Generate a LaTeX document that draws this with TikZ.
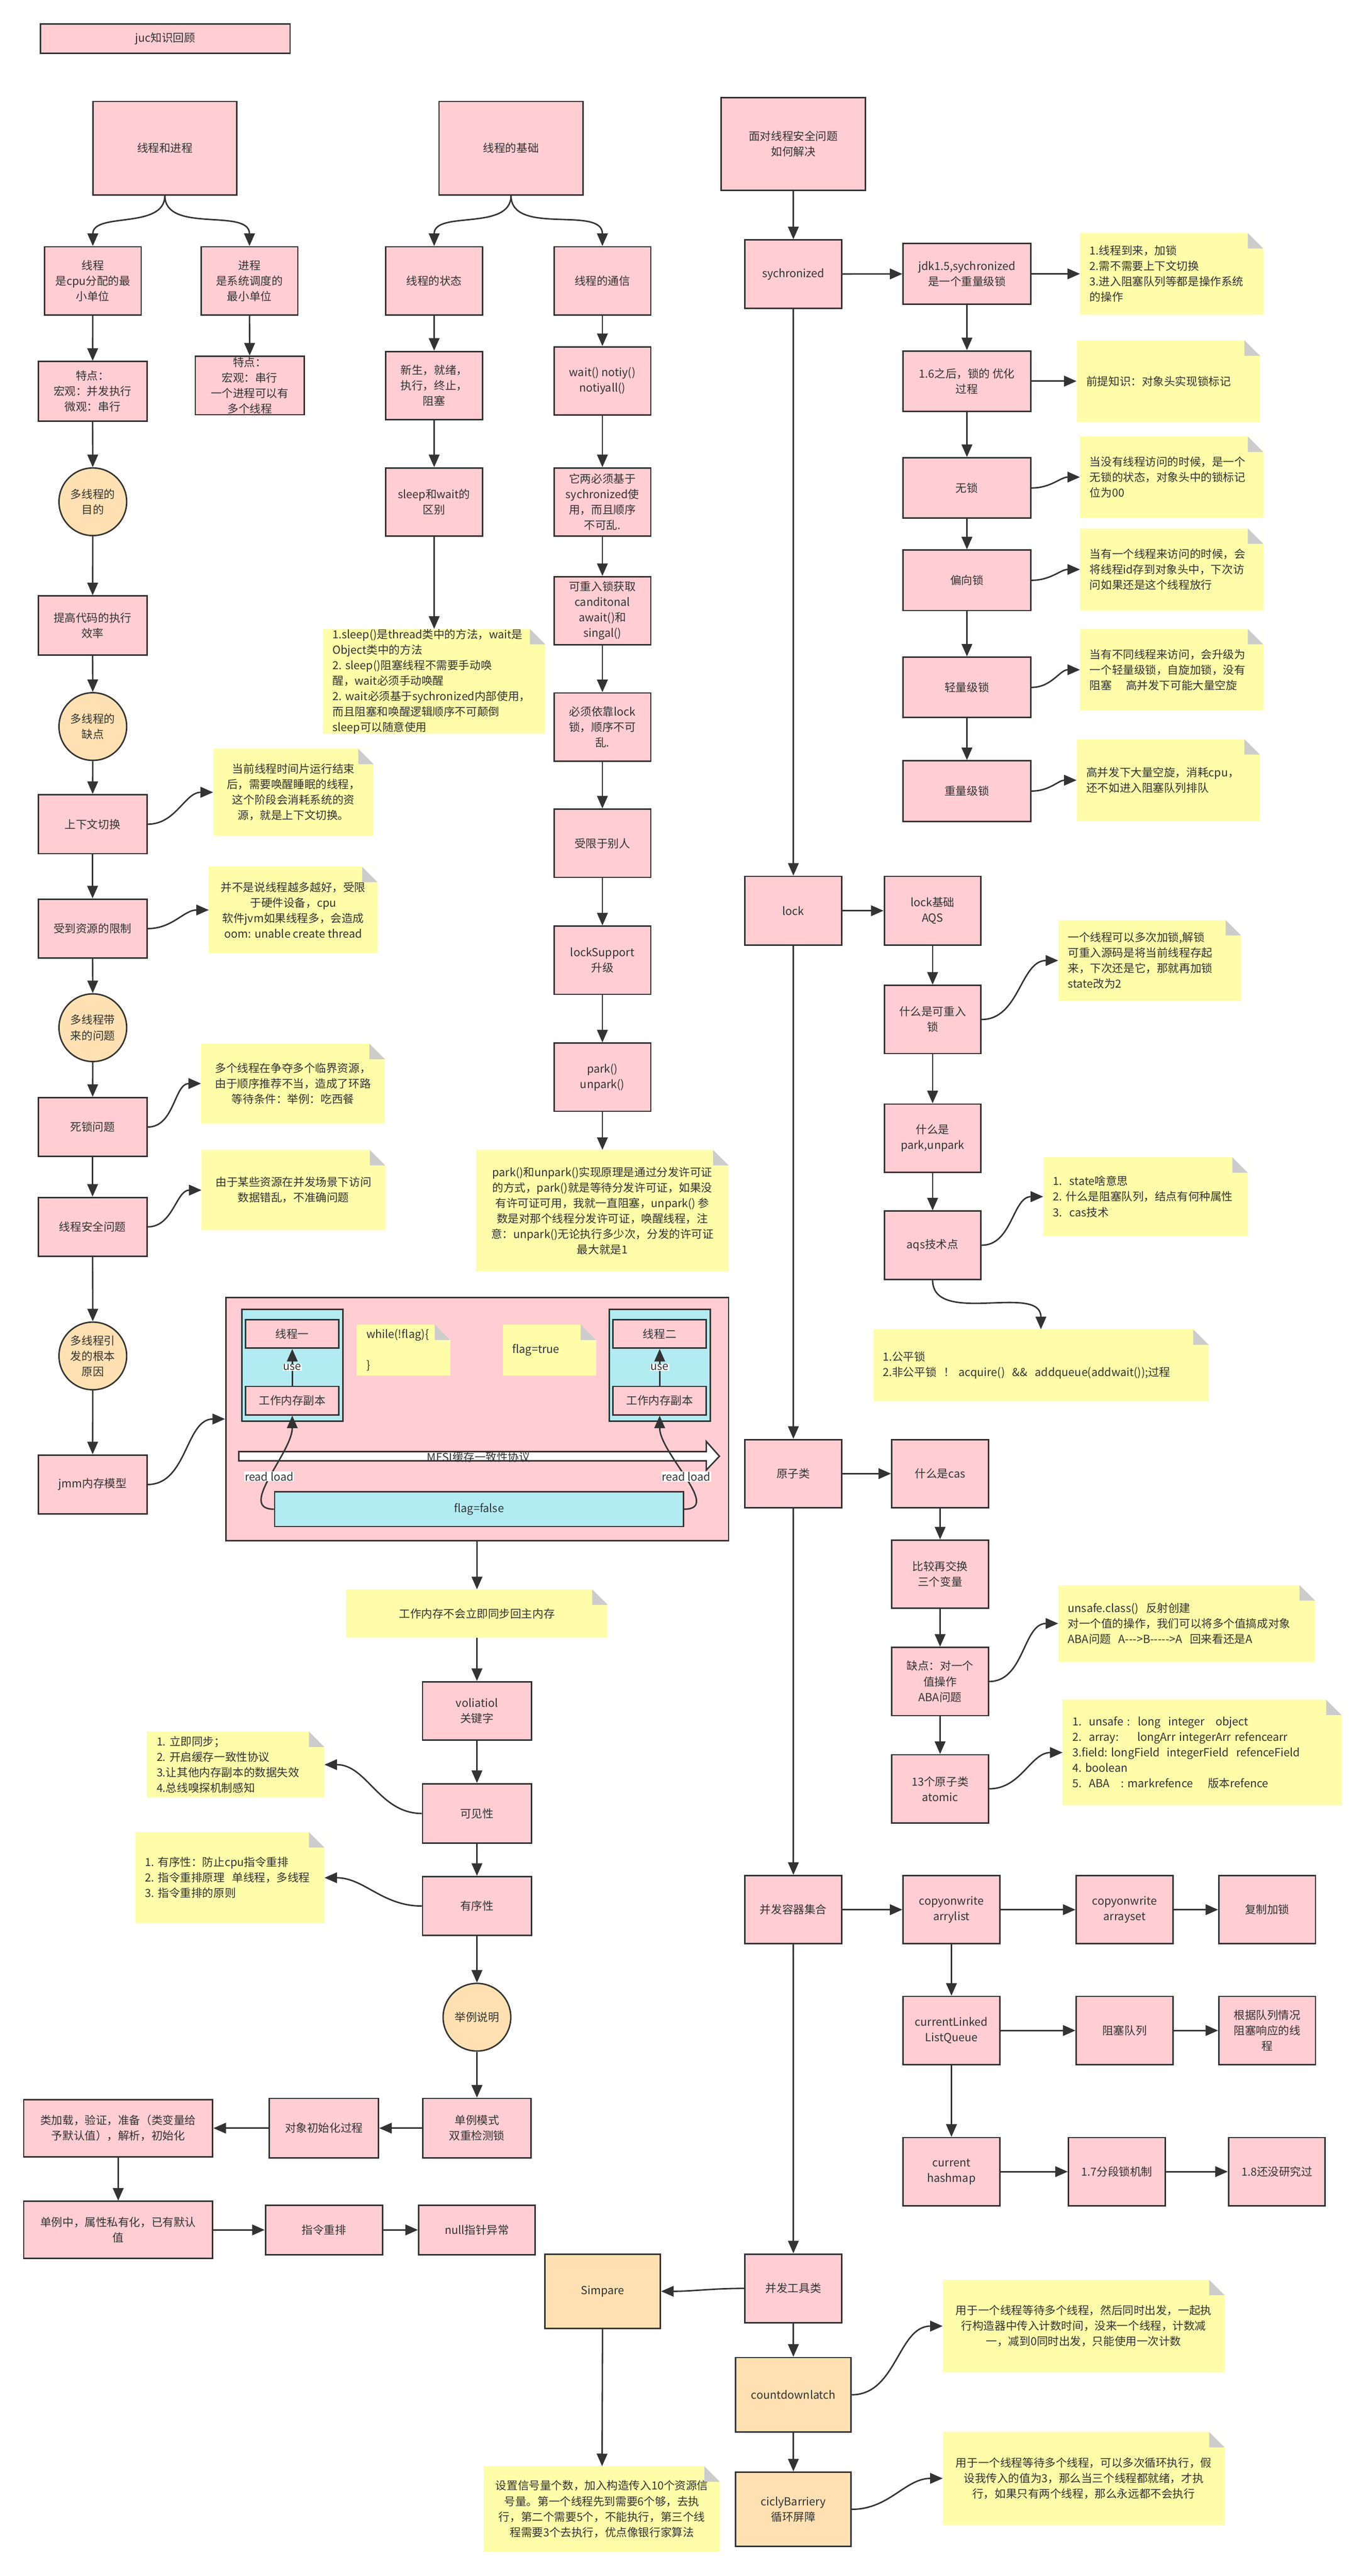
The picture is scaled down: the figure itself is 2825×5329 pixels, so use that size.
\documentclass[tikz,border=0pt]{standalone}
\usepackage{fontspec}
\setmainfont{Noto Sans CJK SC}
\usetikzlibrary{arrows.meta}
\definecolor{pinkc}{RGB}{255,205,210}
\definecolor{peachc}{RGB}{255,224,178}
\definecolor{notec}{RGB}{255,253,170}
\definecolor{cyanc}{RGB}{178,235,242}
\definecolor{edgec}{RGB}{51,51,51}
\definecolor{foldc}{RGB}{204,204,204}
\colorlet{cornerc}{white}
\begin{document}
\begin{tikzpicture}[x=1pt,y=-1pt,font=\fontsize{23}{32}\selectfont,text=edgec,
	box/.style={draw=edgec,fill=pinkc,line width=3pt,align=center,inner sep=0pt},
	sq/.style={box,minimum width=200,minimum height=141},
	lb/.style={box,minimum width=225,minimum height=122},
	lk/.style={box,minimum width=264,minimum height=125},
	pbox/.style={box,fill=peachc,minimum width=239,minimum height=154},
	circ/.style={circle,draw=edgec,fill=peachc,line width=3pt,align=center,minimum size=140,inner sep=0pt},
	note/.style={fill=notec,align=center,inner sep=0pt,path picture={
		\fill[cornerc] ([xshift=-32pt]path picture bounding box.north east) -- (path picture bounding box.north east) -- ([yshift=-32pt]path picture bounding box.north east) -- cycle;
		\fill[foldc] ([xshift=-32pt]path picture bounding box.north east) -- ([xshift=-32pt,yshift=-32pt]path picture bounding box.north east) -- ([yshift=-32pt]path picture bounding box.north east) -- cycle;}},
	lnote/.style={note,align=left,text width=#1},
	arr/.style={draw=edgec,line width=3pt,-{Triangle[length=26pt,width=22pt]}},
	lbl/.style={fill=white,inner sep=1pt},
	mesi/.style={draw=edgec,fill=white,line width=3pt}]
	\fill[white] (0,0) rectangle (2825,5329);
	\useasboundingbox (0,0) rectangle (2825,5329);
	\node[box,minimum width=516,minimum height=61] (t0) at (342,80) {juc知识回顾};
	\node[box,minimum width=298,minimum height=193] (a1) at (341,306.5) {线程和进程};
	\node[sq] (a2) at (192,581) {线程\\是cpu分配的最\\小单位};
	\node[sq] (a3) at (516,581) {进程\\是系统调度的\\最小单位};
	\node[lb,minimum height=123] (a4) at (191.5,809.5) {特点：\\宏观：并发执行\\微观：串行};
	\node[lb,minimum height=121] (a5) at (516.5,797.5) {特点：\\宏观：串行\\一个进程可以有\\多个线程};
	\node[circ] (c1) at (192,1038) {多线程的\\目的};
	\node[lb] (a6) at (191.5,1294) {提高代码的执行\\效率};
	\node[circ] (c2) at (192,1503) {多线程的\\缺点};
	\node[lb] (a7) at (191.5,1705) {上下文切换};
	\node[note,minimum width=332,minimum height=180] (n1) at (607,1639) {当前线程时间片运行结束\\后，需要唤醒睡眠的线程，\\这个阶段会消耗系统的资\\源，就是上下文切换。};
	\node[lb] (a8) at (191.5,1921) {受到资源的限制};
	\node[note,minimum width=349,minimum height=179] (n2) at (606.5,1882.5) {并不是说线程越多越好，受限\\于硬件设备，cpu\\软件jvm如果线程多，会造成\\oom: unable create thread};
	\node[circ] (c3) at (192,2126) {多线程带\\来的问题};
	\node[lb] (a9) at (191.5,2331.5) {死锁问题};
	\node[note,minimum width=380,minimum height=165] (n3) at (606,2241.5) {多个线程在争夺多个临界资源，\\由于顺序推荐不当，造成了环路\\等待条件：举例：吃西餐};
	\node[lb] (a10) at (191.5,2538) {线程安全问题};
	\node[note,minimum width=380,minimum height=166] (n4) at (607,2462) {由于某些资源在并发场景下访问\\数据错乱，不准确问题};
	\node[circ] (c4) at (192,2805) {多线程引\\发的根本\\原因};
	\node[lb] (a11) at (191.5,3071) {jmm内存模型};
	\draw[arr] (a1.south) to[out=-90,in=90] (a2.north);
	\draw[arr] (a1.south) to[out=-90,in=90] (a3.north);
	\draw[arr] (a2) -- (a4);
	\draw[arr] (a3) -- (a5);
	\draw[arr] (a4) -- (c1);
	\draw[arr] (c1) -- (a6);
	\draw[arr] (a6) -- (c2);
	\draw[arr] (c2) -- (a7);
	\draw[arr] (a7) -- (a8);
	\draw[arr] (a8) -- (c3);
	\draw[arr] (c3) -- (a9);
	\draw[arr] (a9) -- (a10);
	\draw[arr] (a10) -- (c4);
	\draw[arr] (c4) -- (a11);
	\draw[arr] (a7.east) to[out=0,in=180] (n1.west);
	\draw[arr] (a8.east) to[out=0,in=180] (n2.west);
	\draw[arr] (a9.east) to[out=0,in=180] (n3.west);
	\draw[arr] (a10.east) to[out=0,in=180] (n4.west);
	\node[box,minimum width=298,minimum height=193] (b1) at (1057,306.5) {线程的基础};
	\node[sq] (b2) at (898,581) {线程的状态};
	\node[sq] (b3) at (1246,581) {线程的通信};
	\node[sq] (b4) at (898,797.5) {新生，就绪，\\执行，终止，\\阻塞};
	\node[sq] (b5) at (1246,788) {wait() notiy()\\notiyall()};
	\node[sq] (b6) at (898,1038.5) {sleep和wait的\\区别};
	\node[sq] (b7) at (1246,1038.5) {它两必须基于\\sychronized使\\用，而且顺序\\不可乱.};
	\node[lnote=420,minimum width=460,minimum height=217] (n5) at (898,1409.5) {1.sleep()是thread类中的方法，wait是\\Object类中的方法\\2.~sleep()阻塞线程不需要手动唤\\醒，wait必须手动唤醒\\2.~wait必须基于sychronized内部使用，\\而且阻塞和唤醒逻辑顺序不可颠倒\\sleep可以随意使用};
	\node[sq] (b8) at (1246,1263.5) {可重入锁获取\\canditonal\\await()和\\singal()};
	\node[sq] (b9) at (1246,1504) {必须依靠lock\\锁，顺序不可\\乱.};
	\node[sq] (b10) at (1246,1744.5) {受限于别人};
	\node[sq] (b11) at (1246,1986.5) {lockSupport\\升级};
	\node[sq] (b12) at (1246,2228.5) {park()\\unpark()};
	\node[note,minimum width=522,minimum height=251] (n6) at (1246,2504.5) {park()和unpark()实现原理是通过分发许可证\\的方式，park()就是等待分发许可证，如果没\\有许可证可用，我就一直阻塞，unpark()~参\\数是对那个线程分发许可证，唤醒线程，注\\意：unpark()无论执行多少次，分发的许可证\\最大就是1};
	\draw[arr] (b1.south) to[out=-90,in=90] (b2.north);
	\draw[arr] (b1.south) to[out=-90,in=90] (b3.north);
	\draw[arr] (b2) -- (b4);
	\draw[arr] (b4) -- (b6);
	\draw[arr] (b6) -- (n5);
	\draw[arr] (b3) -- (b5);
	\draw[arr] (b5) -- (b7);
	\draw[arr] (b7) -- (b8);
	\draw[arr] (b8) -- (b9);
	\draw[arr] (b9) -- (b10);
	\draw[arr] (b10) -- (b11);
	\draw[arr] (b11) -- (b12);
	\draw[arr] (b12) -- (n6);
	\node[box,minimum width=1040,minimum height=503] (jmm) at (987,2935.5) {};
	\node[box,fill=cyanc,minimum width=209,minimum height=231] (cy1) at (604.5,2824.5) {};
	\node[box,fill=cyanc,minimum width=209,minimum height=231] (cy2) at (1364.5,2824.5) {};
	\node[box,minimum width=193,minimum height=59] (t1) at (604.5,2759.5) {线程一};
	\node[box,minimum width=193,minimum height=59] (w1) at (604.5,2897.5) {工作内存副本};
	\node[box,minimum width=193,minimum height=59] (t2) at (1364.5,2759.5) {线程二};
	\node[box,minimum width=193,minimum height=59] (w2) at (1364.5,2897.5) {工作内存副本};
	\draw[arr] (w1) -- node[lbl] {use} (t1);
	\draw[arr] (w2) -- node[lbl] {use} (t2);
	\begin{scope}
		\colorlet{cornerc}{pinkc}
		\node[lnote=153,minimum width=193,minimum height=106] (wn) at (834.5,2793) {while(!flag)\{\\[32pt]\}};
		\node[lnote=153,minimum width=193,minimum height=106] (fn) at (1136.5,2793) {flag=true};
	\end{scope}
	\draw[mesi] (494,3003) -- (1461,3003) -- (1461,2982) -- (1488,3012.5) -- (1461,3041) -- (1461,3022) -- (494,3022) -- cycle;
	\node (ms) at (990,3014) {MESI缓存一致性协议};
	\node[box,fill=cyanc,minimum width=846,minimum height=72] (ff) at (991,3122) {flag=false};
	\draw[arr] (ff.west) to[out=180,in=-90] node[lbl] {read load} (w1.south);
	\draw[arr] (ff.east) to[out=0,in=-90] node[lbl] {read load} (w2.south);
	\draw[arr] (a11.east) to[out=0,in=180] (jmm.west);
	\node[note,minimum width=541,minimum height=100] (vn1) at (986.5,3338) {工作内存不会立即同步回主内存};
	\node[lb,minimum height=121] (v1) at (986.5,3539.5) {voliatiol\\关键字};
	\node[lb,minimum height=123] (v2) at (986.5,3751.5) {可见性};
	\node[lb] (v3) at (986.5,3943) {有序性};
	\node[lnote=327,minimum width=367,minimum height=137] (vn2) at (487.5,3650.5) {1.~立即同步；\\2.~开启缓存一致性协议\\3.让其他内存副本的数据失效\\4.总线嗅探机制感知};
	\node[lnote=351,minimum width=391,minimum height=189] (vn3) at (475.5,3884.5) {1.~有序性：防止cpu指令重排\\2.~指令重排原理~~单线程，多线程\\3.~指令重排的原则};
	\node[circ] (c5) at (986.5,4173) {举例说明};
	\node[box,minimum width=224,minimum height=123] (d1) at (986.5,4402.5) {单例模式\\双重检测锁};
	\node[box,minimum width=226,minimum height=123] (d2) at (670,4402.5) {对象初始化过程};
	\node[box,minimum width=391,minimum height=118] (d3) at (244.5,4402.5) {类加载，验证，准备（类变量给\\予默认值），解析，初始化};
	\node[box,minimum width=391,minimum height=118] (d4) at (244.5,4613) {单例中，属性私有化，已有默认\\值};
	\node[box,minimum width=242,minimum height=102] (d5) at (670,4613) {指令重排};
	\node[box,minimum width=241,minimum height=102] (d6) at (986.5,4613) {null指针异常};
	\draw[arr] (jmm) -- (vn1);
	\draw[arr] (vn1) -- (v1);
	\draw[arr] (v1) -- (v2);
	\draw[arr] (v2) -- (v3);
	\draw[arr] (v2.west) to[out=180,in=0] (vn2.east);
	\draw[arr] (v3.west) to[out=180,in=0] (vn3.east);
	\draw[arr] (v3) -- (c5);
	\draw[arr] (c5) -- (d1);
	\draw[arr] (d1) -- (d2);
	\draw[arr] (d2) -- (d3);
	\draw[arr] (d3) -- (d4);
	\draw[arr] (d4) -- (d5);
	\draw[arr] (d5) -- (d6);
	\node[box,minimum width=298,minimum height=192] (r1) at (1641,298) {面对线程安全问题\\如何解决};
	\node[sq] (r2) at (1641,567) {sychronized};
	\node[lk] (s1) at (2000,566.5) {jdk1.5,sychronized\\是一个重量级锁};
	\node[lk] (s2) at (2000,788.5) {1.6之后，锁的~优化\\过程};
	\node[lk] (s3) at (2000,1009.5) {无锁};
	\node[lk] (s4) at (2000,1200.5) {偏向锁};
	\node[lk] (s5) at (2000,1422) {轻量级锁};
	\node[lk] (s6) at (2000,1636.5) {重量级锁};
	\node[lnote=339,minimum width=379,minimum height=169] (sn1) at (2423.5,566.5) {1.线程到来，加锁\\2.需不需要上下文切换\\3.进入阻塞队列等都是操作系统\\的操作};
	\node[lnote=339,minimum width=379,minimum height=169] (sn2) at (2416.5,788.5) {前提知识：对象头实现锁标记};
	\node[lnote=339,minimum width=379,minimum height=168] (sn3) at (2423.5,987) {当没有线程访问的时候，是一个\\无锁的状态，对象头中的锁标记\\位为00};
	\node[lnote=339,minimum width=379,minimum height=170] (sn4) at (2423.5,1178) {当有一个线程来访问的时候，会\\将线程id存到对象头中，下次访\\问如果还是这个线程放行};
	\node[lnote=339,minimum width=379,minimum height=169] (sn5) at (2423.5,1385.5) {当有不同线程来访问，会升级为\\一个轻量级锁，自旋加锁，没有\\阻塞\hspace{29pt}高并发下可能大量空旋};
	\node[lnote=339,minimum width=379,minimum height=170] (sn6) at (2416.5,1614) {高并发下大量空旋，消耗cpu，\\还不如进入阻塞队列排队};
	\draw[arr] (r1) -- (r2);
	\draw[arr] (r2) -- (s1);
	\draw[arr] (s1) -- (sn1);
	\draw[arr] (s1) -- (s2);
	\draw[arr] (s2) -- (sn2);
	\draw[arr] (s2) -- (s3);
	\draw[arr] (s3) -- (s4);
	\draw[arr] (s4) -- (s5);
	\draw[arr] (s5) -- (s6);
	\draw[arr] (s3.east) to[out=0,in=180] (sn3.west);
	\draw[arr] (s4.east) to[out=0,in=180] (sn4.west);
	\draw[arr] (s5.east) to[out=0,in=180] (sn5.west);
	\draw[arr] (s6.east) to[out=0,in=180] (sn6.west);
	\node[sq,minimum height=142] (r3) at (1641,1884) {lock};
	\node[sq,minimum height=142] (l1) at (1929,1884) {lock基础\\AQS};
	\node[sq] (l2) at (1929,2109) {什么是可重入\\锁};
	\node[sq] (l3) at (1929,2354.5) {什么是\\park,unpark};
	\node[sq] (l4) at (1929,2576) {aqs技术点};
	\node[lnote=338,minimum width=378,minimum height=168] (ln2) at (2378,1987) {一个线程可以多次加锁,解锁\\可重入源码是将当前线程存起\\来，下次还是它，那就再加锁\\state改为2};
	\node[lnote=383,minimum width=423,minimum height=163] (ln4) at (2369.5,2475.5) {1.~~state啥意思\\2.~什么是阻塞队列，结点有何种属性\\3.~~cas技术};
	\node[lnote=654,minimum width=694,minimum height=149] (ln5) at (2153,2824.5) {1.公平锁\\2.非公平锁~~！~acquire()~~\&\&~~addqueue(addwait());过程};
	\draw[arr] (r2) -- (r3);
	\draw[arr] (r3) -- (l1);
	\draw[arr] (l1) -- (l2);
	\draw[arr] (l2) -- (l3);
	\draw[arr] (l3) -- (l4);
	\draw[arr] (l2.east) to[out=0,in=180] (ln2.west);
	\draw[arr] (l4.east) to[out=0,in=180] (ln4.west);
	\draw[arr] (l4.south) to[out=-90,in=90] (ln5.north);
	\node[sq] (r4) at (1641,3048.5) {原子类};
	\node[sq] (x1) at (1944.5,3048.5) {什么是cas};
	\node[sq] (x2) at (1944.5,3256.5) {比较再交换\\三个变量};
	\node[sq] (x3) at (1944.5,3478.5) {缺点：对一个\\值操作\\ABA问题};
	\node[sq] (x4) at (1944.5,3700.5) {13个原子类\\atomic};
	\node[lnote=491,minimum width=531,minimum height=159] (xn3) at (2454.5,3358.5) {unsafe.class()~~反射创建\\对一个值的操作，我们可以将多个值搞成对象\\ABA问题~~A-{}-{}->B-{}-{}-{}-{}->A~~回来看还是A};
	\node[lnote=537,minimum width=577,minimum height=219] (xn4) at (2486.5,3625.5) {1.~~unsafe~:~~long~~integer~~~object\\2.~~array:~~~~~longArr~integerArr~refencearr\\3.field:~longField~~integerField~~refenceField\\4.~boolean\\5.~~ABA~~~:~markrefence~~~~版本refence};
	\draw[arr] (r3) -- (r4);
	\draw[arr] (r4) -- (x1);
	\draw[arr] (x1) -- (x2);
	\draw[arr] (x2) -- (x3);
	\draw[arr] (x3) -- (x4);
	\draw[arr] (x3.east) to[out=0,in=180] (xn3.west);
	\draw[arr] (x4.east) to[out=0,in=180] (xn4.west);
	\node[sq] (r5) at (1641,3950.5) {并发容器集合};
	\node[sq] (y1) at (1968,3950.5) {copyonwrite\\arrylist};
	\node[sq] (y2) at (2326,3950.5) {copyonwrite\\arrayset};
	\node[sq] (y3) at (2621,3950.5) {复制加锁};
	\node[sq] (y4) at (1968,4200.5) {currentLinked\\ListQueue};
	\node[sq] (y5) at (2326,4200.5) {阻塞队列};
	\node[sq] (y6) at (2621,4200.5) {根据队列情况\\阻塞响应的线\\程};
	\node[sq] (y7) at (1968,4492.5) {current\\hashmap};
	\node[sq] (y8) at (2310,4492.5) {1.7分段锁机制};
	\node[sq] (y9) at (2641,4492.5) {1.8还没研究过};
	\draw[arr] (r4) -- (r5);
	\draw[arr] (r5) -- (y1);
	\draw[arr] (y1) -- (y2);
	\draw[arr] (y2) -- (y3);
	\draw[arr] (y1) -- (y4);
	\draw[arr] (y4) -- (y5);
	\draw[arr] (y5) -- (y6);
	\draw[arr] (y4) -- (y7);
	\draw[arr] (y7) -- (y8);
	\draw[arr] (y8) -- (y9);
	\node[sq,minimum height=142] (r6) at (1641,4734) {并发工具类};
	\node[pbox] (z1) at (1246.5,4740) {Simpare};
	\node[pbox] (z2) at (1641,4954) {countdownlatch};
	\node[pbox] (z3) at (1641,5191) {ciclyBarriery\\循环屏障};
	\node[note,minimum width=488,minimum height=177] (zn1) at (1245,5190.5) {设置信号量个数，加入构造传入10个资源信\\号量。第一个线程先到需要6个够，去执\\行，第二个需要5个，不能执行，第三个线\\程需要3个去执行，优点像银行家算法};
	\node[note,minimum width=583,minimum height=192] (zn2) at (2241.5,4812) {用于一个线程等待多个线程，然后同时出发，一起执\\行构造器中传入计数时间，没来一个线程，计数减\\一，减到0同时出发，只能使用一次计数};
	\node[note,minimum width=583,minimum height=192] (zn3) at (2241.5,5127) {用于一个线程等待多个线程，可以多次循环执行，假\\设我传入的值为3，那么当三个线程都就绪，才执\\行，如果只有两个线程，那么永远都不会执行};
	\draw[arr] (r5) -- (r6);
	\draw[arr] (r6.west) to[out=180,in=0] (z1.east);
	\draw[arr] (r6) -- (z2);
	\draw[arr] (z2) -- (z3);
	\draw[arr] (z1) -- (zn1);
	\draw[arr] (z2.east) to[out=0,in=180] (zn2.west);
	\draw[arr] (z3.east) to[out=0,in=180] (zn3.west);
\end{tikzpicture}
\end{document}
